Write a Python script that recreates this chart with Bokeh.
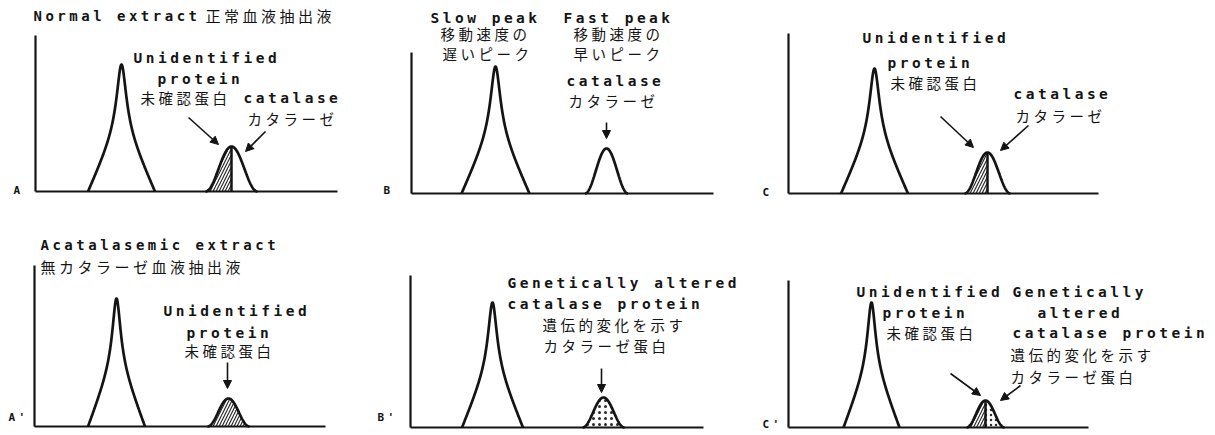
import numpy as np
from bokeh.plotting import figure
from bokeh.models import Range1d, Arrow, NormalHead, InlineStyleSheet
from bokeh.layouts import row, column
from bokeh.core.properties import value
from bokeh.embed import file_html
from bokeh.resources import INLINE

# ---------------- data (arbitrary units) ----------------
panel_ids = ["A", "B", "C", "A'", "B'", "C'"]
# main (unidentified / slow) peak: position, height, half base width
main_pos = [86, 84, 86, 82, 82, 83]
main_height = [127, 127, 125, 128, 125, 125]
main_half = [33.5, 34, 33.5, 28.5, 30.5, 28]
# minor (catalase / fast) peak
minor_pos = [196, 195, 199, 194, 193, 197]
minor_height = [45, 45, 41, 28, 30, 27]
minor_half = [26, 21.5, 23, 21, 21, 19]
minor_fill = ["half_hatch", "none", "half_hatch", "hatch", "dots", "hatch_dots"]

# label texts per panel
texts_A = ["Normal extract", "正常血液抽出液", "Unidentified", "protein", "未確認蛋白", "catalase", "カタラーゼ", "A"]
texts_B = ["Slow peak", "移動速度の", "遅いピーク", "Fast peak", "移動速度の", "早いピーク", "catalase", "カタラーゼ", "B"]
texts_C = ["Unidentified", "protein", "未確認蛋白", "catalase", "カタラーゼ", "C"]
texts_A2 = ["Acatalasemic extract", "無カタラーゼ血液抽出液", "Unidentified", "protein", "未確認蛋白", "A'"]
texts_B2 = ["Genetically altered", "catalase protein", "遺伝的変化を示す", "カタラーゼ蛋白", "B'"]
texts_C2 = ["Unidentified", "Genetically", "protein", "altered", "未確認蛋白", "catalase protein", "遺伝的変化を示す", "カタラーゼ蛋白", "C'"]
panel_texts = [texts_A, texts_B, texts_C, texts_A2, texts_B2, texts_C2]

# ---------------- layout (positions / styles) ----------------
# figure: left, width, top, height (page px); axis origin (page px); axis top / baseline end (units)
fig_layout = [
    (0, 374, 0, 217, 35, 191, 156, 302),
    (374, 384, 0, 217, 411, 193, 141, 302),
    (758, 457, 0, 217, 788, 193, 160, 310),
    (0, 374, 217, 218, 34, 426, 161, 291),
    (374, 384, 217, 218, 410, 427, 152, 293),
    (758, 457, 217, 218, 788, 427, 147, 300),
]
# (kind, x, y) for each label, same order as texts
label_pos = [
    [("ten", -2, 176), ("tjp", 170, 176), ("en", 98, 134), ("en", 122, 113), ("jp", 105, 94),
     ("en", 208, 94), ("jp", 212, 73), ("let", -22, 1)],
    [("en", 19, 176), ("jp", 29, 160), ("jp", 31, 140), ("en", 152, 176), ("jp", 162, 160),
     ("jp", 162, 140), ("en", 155, 113), ("jp", 157, 93), ("let", -28, 3)],
    [("en", 74, 156), ("en", 99, 131), ("jp", 102, 111), ("en", 225, 100), ("jp", 227, 78), ("let", -26, 1)],
    [("ten", 6, 182), ("tjp", 6, 160), ("en", 129, 116), ("en", 152, 94), ("jp", 150, 76), ("let", -26, 9)],
    [("en", 97, 145), ("en", 97, 124), ("jp", 132, 103), ("jp", 133, 82), ("let", -33, 10)],
    [("en", 68, 136), ("en", 224, 136), ("en", 94, 115), ("en", 249, 115), ("jp", 98, 95),
     ("en", 224, 95), ("jp", 222, 73), ("jp", 222, 51), ("let", -26, 3)],
]
arrow_pos = [
    [(153, 74, 183, 47), (230, 60, 210, 40)],
    [(195, 71, 195, 55)],
    [(152, 77, 185, 46), (240, 68, 212, 43)],
    [(193, 64, 193, 38)],
    [(191, 59, 191, 35)],
    [(162, 54, 192, 32), (232, 42, 212, 27)],
]

INK = "#141414"
EN_FONT = value("DejaVu Sans Mono")
JP_FONT = value("Noto Sans CJK JP")
styles = {
    "ten": dict(text_font=EN_FONT, text_font_size="14px", text_font_style="bold"),
    "en": dict(text_font=EN_FONT, text_font_size="14.5px", text_font_style="bold"),
    "tjp": dict(text_font=JP_FONT, text_font_size="15px", text_font_style="normal"),
    "jp": dict(text_font=JP_FONT, text_font_size="14.5px", text_font_style="normal"),
    "let": dict(text_font=EN_FONT, text_font_size="11px", text_font_style="bold"),
}


def main_profile(c, h, w, n=301):
    # sharp Lorentzian-like spike on a straight-sided flared foot
    x = np.linspace(c - w, c + w, n)
    u = np.abs(x - c) / w
    a = 0.06
    r = (np.sqrt(u ** 2 + a ** 2) - a) / (np.sqrt(1 + a ** 2) - a)
    g = 0.17
    l1 = 1 / (1 + (1 / g) ** 2)
    spike = (1 / (1 + (u / g) ** 2) - l1) / (1 - l1)
    y = h * (0.55 * np.clip(1 - r, 0, None) + 0.45 * spike)
    return x, y


def minor_profile(c, h, w, n=161):
    x = np.linspace(c - w, c + w, n)
    u = (x - c) / w
    y = h * (1 + np.cos(np.pi * u)) / 2
    return x, y


def make_panel(i):
    X0, W, Y0, H, ax_x, base_y, top_dy, end_dx = fig_layout[i]
    p = figure(width=W, height=H,
               x_range=Range1d(X0 - ax_x, X0 + W - ax_x),
               y_range=Range1d(base_y - (Y0 + H), base_y - Y0),
               output_backend="svg", toolbar_location=None, min_border=0,
               x_axis_type=None, y_axis_type=None,
               background_fill_color="white", border_fill_color="white",
               outline_line_color=None)
    p.stylesheets = [InlineStyleSheet(css=":host { letter-spacing: 3.5px; }")]

    # axes (L shape)
    p.segment(x0=[0, 0], y0=[0, 0], x1=[0, end_dx], y1=[top_dy, 0], line_width=2.2, line_color=INK)

    # main peak
    mx, my = main_profile(main_pos[i], main_height[i], main_half[i])
    p.line(mx, my, line_width=2.7, line_color=INK, line_join="round")

    # minor peak
    c = minor_pos[i]
    sx, sy = minor_profile(c, minor_height[i], minor_half[i])
    left = sx <= c
    right = sx >= c
    kind = minor_fill[i]
    hatch_kw = dict(fill_alpha=0, hatch_color=INK, hatch_alpha=0.9)
    if kind in ("half_hatch", "hatch_dots"):
        p.varea(x=sx[left], y1=0, y2=sy[left], hatch_pattern="/", hatch_scale=6, hatch_weight=1.2, **hatch_kw)
    if kind == "hatch":
        p.varea(x=sx, y1=0, y2=sy, hatch_pattern="/", hatch_scale=6, hatch_weight=1.2, **hatch_kw)
    if kind == "dots":
        p.varea(x=sx, y1=0, y2=sy, hatch_pattern=".", hatch_scale=6, hatch_weight=1.5, **hatch_kw)
    if kind == "hatch_dots":
        p.varea(x=sx[right], y1=0, y2=sy[right], hatch_pattern=".", hatch_scale=5, hatch_weight=1.5, **hatch_kw)
    if kind in ("half_hatch", "hatch_dots"):
        p.segment(x0=[c], y0=[0], x1=[c], y1=[minor_height[i]], line_width=2.5, line_color=INK)
    p.line(sx, sy, line_width=2.7, line_color=INK)

    # labels
    for txt, (k, x, y) in zip(panel_texts[i], label_pos[i]):
        p.text(x=[x], y=[y], text=[txt], text_align="left", text_baseline="middle",
               text_color=INK, **styles[k])

    # arrows
    for (x0, y0, x1, y1) in arrow_pos[i]:
        p.add_layout(Arrow(end=NormalHead(size=8, fill_color=INK, line_color=INK, line_width=1),
                           x_start=x0, y_start=y0, x_end=x1, y_end=y1,
                           line_width=1.6, line_color=INK))
    return p


panels = [make_panel(i) for i in range(6)]
layout = column(row(*panels[:3], spacing=0), row(*panels[3:], spacing=0), spacing=0)

open("out.html", "w").write(file_html(layout, INLINE))
